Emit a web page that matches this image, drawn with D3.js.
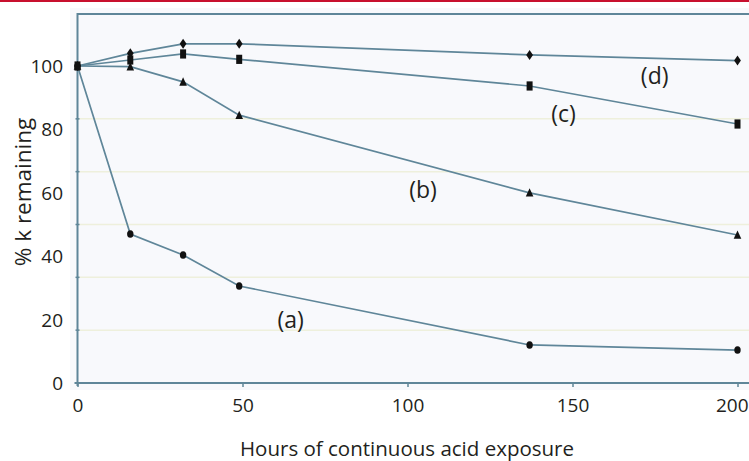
<!DOCTYPE html>
<html>
<head>
<meta charset="utf-8">
<script src="https://cdn.jsdelivr.net/npm/d3@7"></script>
<style>
  html, body { margin: 0; padding: 0; background: #ffffff; }
  svg { display: block; font-family: "Open Sans", "Noto Sans", sans-serif; }
</style>
</head>
<body>
<svg id="chart" width="749" height="461"></svg>
<script>
// Sampling times (hours of continuous acid exposure)
const hours = [0, 16, 32, 49, 137, 200];

// Percentage of k remaining for each curve
const seriesA = [100, 47, 40.4, 30.6, 12, 10.4];
const seriesB = [100, 99.8, 95, 84.5, 60, 46.7];
const seriesC = [100, 101.9, 103.8, 102.1, 93.7, 81.7];
const seriesD = [100, 104, 107, 107, 103.5, 101.7];

// Axis tick labels
const xTicks = [0, 50, 100, 150, 200];
const yTicks = [0, 20, 40, 60, 80, 100];
// Faint horizontal rules and minor y ticks (sixths of the 0-100 range)
const gridValues = [16.67, 33.33, 50, 66.67, 83.33];

// Curve labels, anchored in data units
const curveLabels = [
  { text: "(a)", hour: 64.6, value: 17.5 },
  { text: "(b)", hour: 104.7, value: 58.5 },
  { text: "(c)", hour: 147.3, value: 82.3 },
  { text: "(d)", hour: 174.9, value: 94.3 }
];

const series = [
  { key: "a", values: seriesA, marker: "dot" },
  { key: "b", values: seriesB, marker: "triangle" },
  { key: "c", values: seriesC, marker: "square" },
  { key: "d", values: seriesD, marker: "diamond" }
];

const W = 749, H = 461;
const plotLeft = 77.5, plotRight = 749, plotTop = 14, plotBottom = 383;
const lineColor = "#5f8699";
const textColor = "#231f20";

const svg = d3.select("#chart");

const x = d3.scaleLinear().domain([0, 200]).range([plotLeft, 737.5]);
const y = d3.scaleLinear().domain([0, 100]).range([plotBottom, 66]);

// Red rule across the top of the page
svg.append("rect")
  .attr("x", 0).attr("y", 0).attr("width", W).attr("height", 2)
  .attr("fill", "#c8102e");

// Plot panel
svg.append("rect")
  .attr("x", 70).attr("y", 8).attr("width", W - 70).attr("height", 382)
  .attr("fill", "#f8f9fc");

// Faint horizontal rules
svg.append("g")
  .selectAll("line")
  .data(gridValues)
  .join("line")
  .attr("x1", plotLeft).attr("x2", plotRight)
  .attr("y1", d => y(d)).attr("y2", d => y(d))
  .attr("stroke", "#eef0dc")
  .attr("stroke-width", 1.5);

// Frame: top border, left axis, bottom axis
svg.append("line")
  .attr("x1", plotLeft).attr("x2", plotRight).attr("y1", plotTop).attr("y2", plotTop)
  .attr("stroke", lineColor).attr("stroke-width", 2);
svg.append("line")
  .attr("x1", plotLeft).attr("x2", plotLeft).attr("y1", plotTop - 1).attr("y2", plotBottom + 3)
  .attr("stroke", lineColor).attr("stroke-width", 2);
svg.append("line")
  .attr("x1", plotLeft - 3).attr("x2", plotRight).attr("y1", plotBottom).attr("y2", plotBottom)
  .attr("stroke", lineColor).attr("stroke-width", 2);

// Minor y ticks on the axis
svg.append("g")
  .selectAll("line")
  .data(gridValues)
  .join("line")
  .attr("x1", plotLeft - 2).attr("x2", plotLeft + 2)
  .attr("y1", d => y(d)).attr("y2", d => y(d))
  .attr("stroke", lineColor).attr("stroke-width", 1.5);

// X axis
const xAxis = svg.append("g")
  .attr("transform", `translate(0,${plotBottom})`)
  .call(d3.axisBottom(x).tickValues(xTicks).tickSize(4).tickPadding(12).tickFormat(d3.format("d")));
xAxis.select(".domain").remove();
xAxis.selectAll(".tick line").attr("stroke", lineColor).attr("stroke-width", 1.5);
xAxis.selectAll(".tick text")
  .attr("fill", textColor)
  .attr("font-size", 19)
  .attr("font-family", "Open Sans, sans-serif");
// Keep the last label inside the page edge
xAxis.selectAll(".tick text")
  .filter(d => d === xTicks[xTicks.length - 1])
  .attr("text-anchor", "end")
  .attr("x", 748 - x(xTicks[xTicks.length - 1]));

// Y axis
const yAxis = svg.append("g")
  .attr("transform", `translate(${plotLeft},0)`)
  .call(d3.axisLeft(y).tickValues(yTicks).tickSize(0).tickPadding(14.5).tickFormat(d3.format("d")));
yAxis.select(".domain").remove();
yAxis.selectAll(".tick text")
  .attr("fill", textColor)
  .attr("font-size", 19)
  .attr("dy", "0.34em")
  .attr("font-family", "Open Sans, sans-serif");

// Axis titles
svg.append("text")
  .attr("x", 407).attr("y", 456)
  .attr("text-anchor", "middle")
  .attr("font-size", 20.5)
  .attr("fill", textColor)
  .text("Hours of continuous acid exposure");

svg.append("text")
  .attr("transform", "translate(30.5,192) rotate(-90)")
  .attr("text-anchor", "middle")
  .attr("font-size", 22.5)
  .attr("fill", textColor)
  .text("% k remaining");

// Curves
const line = d3.line()
  .x((d, i) => x(hours[i]))
  .y(d => y(d));

svg.append("g")
  .selectAll("path")
  .data(series)
  .join("path")
  .attr("d", d => line(d.values))
  .attr("fill", "none")
  .attr("stroke", lineColor)
  .attr("stroke-width", 1.7);

// Markers
const markerPath = {
  dot: "M0,-3.8 C2.4,-3.8 3.2,-2 3.2,0 C3.2,2 2.4,3.8 0,3.8 C-2.4,3.8 -3.2,2 -3.2,0 C-3.2,-2 -2.4,-3.8 0,-3.8Z",
  triangle: "M0,-4.5 L3.8,3.8 L-3.8,3.8Z",
  square: "M-3,-4.6 L3,-4.6 L3,4.6 L-3,4.6Z",
  diamond: "M0,-5 L3.4,0 L0,5 L-3.4,0Z"
};

series.forEach(s => {
  svg.append("g")
    .selectAll("path")
    .data(s.values)
    .join("path")
    .attr("transform", (d, i) => `translate(${x(hours[i])},${y(d)})`)
    .attr("d", markerPath[s.marker])
    .attr("fill", "#111111");
});

// Curve labels
svg.append("g")
  .selectAll("text")
  .data(curveLabels)
  .join("text")
  .attr("x", d => x(d.hour))
  .attr("y", d => y(d.value))
  .attr("text-anchor", "middle")
  .attr("font-size", 23)
  .attr("fill", textColor)
  .text(d => d.text);
</script>
</body>
</html>
